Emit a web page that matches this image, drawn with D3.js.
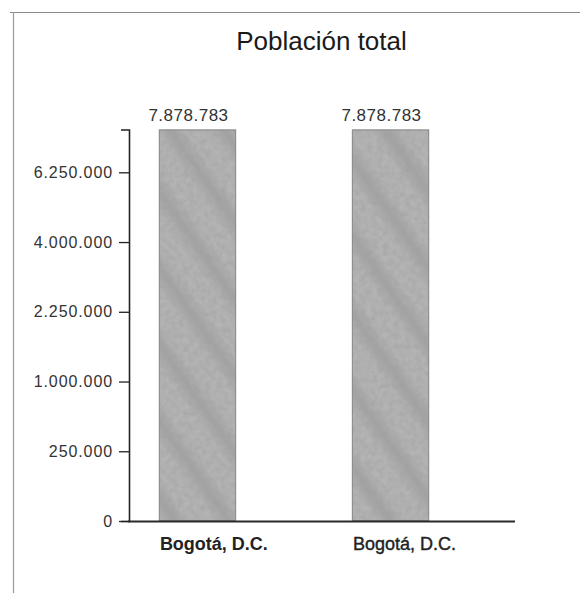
<!DOCTYPE html>
<html>
<head>
<meta charset="utf-8">
<script src="https://cdn.jsdelivr.net/npm/d3@7"></script>
<style>
  html, body { margin: 0; padding: 0; background: #fff; }
  svg { display: block; font-family: Arial, "Liberation Sans", sans-serif; }
</style>
</head>
<body>
<svg id="chart" width="580" height="593"></svg>
<script>
// ---- data ----
const title = "Población total";
const categories = ["Bogotá, D.C. (1)", "Bogotá, D.C. (2)"];
const categoryLabels = ["Bogotá, D.C.", "Bogotá, D.C."];
const values = [7878783, 7878783];
const yTicks = [0, 250000, 1000000, 2250000, 4000000, 6250000];

const locale = d3.formatLocale({decimal: ",", thousands: ".", grouping: [3], currency: ["", ""]});
const fmt = locale.format(",d");

const svg = d3.select("#chart");

// frame
svg.append("line").attr("x1", 10).attr("x2", 580).attr("y1", 12.5).attr("y2", 12.5)
  .attr("stroke", "#8a8a8a").attr("stroke-width", 1.2);
svg.append("line").attr("x1", 13.5).attr("x2", 13.5).attr("y1", 12).attr("y2", 593)
  .attr("stroke", "#9a9a9a").attr("stroke-width", 1.2);

// texture for bars
const defs = svg.append("defs");
const grad = defs.append("linearGradient").attr("id", "band").attr("x1", 0).attr("x2", 1).attr("y1", 0).attr("y2", 0);
grad.append("stop").attr("offset", "0%").attr("stop-color", "#b6b6b6");
grad.append("stop").attr("offset", "50%").attr("stop-color", "#939393");
grad.append("stop").attr("offset", "100%").attr("stop-color", "#b6b6b6");
const pat = defs.append("pattern").attr("id", "tex").attr("patternUnits", "userSpaceOnUse")
  .attr("width", 44).attr("height", 44).attr("patternTransform", "rotate(-35)");
pat.append("rect").attr("width", 44).attr("height", 44).attr("fill", "#b6b6b6");
pat.append("rect").attr("x", 8).attr("width", 26).attr("height", 44).attr("fill", "url(#band)").attr("opacity", 0.55);

const filt = defs.append("filter").attr("id", "grain").attr("x", 0).attr("y", 0).attr("width", 1).attr("height", 1);
filt.append("feTurbulence").attr("type", "fractalNoise").attr("baseFrequency", 0.18)
  .attr("numOctaves", 2).attr("seed", 3).attr("result", "noise");
filt.append("feColorMatrix").attr("in", "noise").attr("type", "matrix")
  .attr("values", "0 0 0 0 0.35  0 0 0 0 0.35  0 0 0 0 0.35  0 0 0 -0.9 0.75").attr("result", "gray");
filt.append("feComposite").attr("in", "gray").attr("in2", "SourceGraphic").attr("operator", "in").attr("result", "g2");
const merge = filt.append("feMerge");
merge.append("feMergeNode").attr("in", "SourceGraphic");
merge.append("feMergeNode").attr("in", "g2");

// scales
const y = d3.scaleSqrt().domain([0, 7878783]).range([521, 129.5]);
const x = d3.scaleBand().domain(categories).range([128, 460]).paddingInner(0.6).paddingOuter(0.16);

// title
svg.append("text").attr("x", 321.5).attr("y", 50).attr("text-anchor", "middle")
  .attr("font-size", 26).attr("fill", "#1a1a1a").text(title);

// bars
svg.selectAll("rect.bar").data(values).join("rect").attr("class", "bar")
  .attr("x", (d, i) => x(categories[i]))
  .attr("y", d => y(d))
  .attr("width", x.bandwidth())
  .attr("height", d => y(0) - y(d))
  .attr("fill", "url(#tex)")
  .attr("filter", "url(#grain)");
svg.selectAll("rect.edge").data(values).join("rect").attr("class", "edge")
  .attr("x", (d, i) => x(categories[i]) + 0.5)
  .attr("y", d => y(d) + 0.5)
  .attr("width", x.bandwidth() - 1)
  .attr("height", d => y(0) - y(d) - 1)
  .attr("fill", "none")
  .attr("stroke", "#8c8c8c").attr("stroke-width", 1);

// value labels
svg.selectAll("text.val").data(values).join("text").attr("class", "val")
  .attr("x", (d, i) => x(categories[i]) + x.bandwidth() / 2 - 9)
  .attr("y", d => y(d) - 9)
  .attr("text-anchor", "middle")
  .attr("font-size", 17).attr("letter-spacing", 0.5).attr("fill", "#333")
  .text(d => fmt(d));

// y axis
const yAxis = d3.axisLeft(y).tickValues(yTicks).tickSize(10).tickSizeOuter(8).tickPadding(6).tickFormat(fmt);
const gy = svg.append("g").attr("transform", "translate(129,0)").call(yAxis);
gy.select(".domain").attr("stroke", "#222").attr("stroke-width", 1.6);
gy.selectAll(".tick line").attr("stroke", "#222").attr("stroke-width", 1.3);
gy.selectAll(".tick text").attr("font-size", 16).attr("letter-spacing", 0.9)
  .attr("fill", "#333").attr("font-family", "Arial, 'Liberation Sans', sans-serif");

// x baseline
svg.append("line").attr("x1", 128).attr("x2", 515).attr("y1", 521.5).attr("y2", 521.5)
  .attr("stroke", "#2a2a2a").attr("stroke-width", 2.2);

// category labels
svg.selectAll("text.cat").data(categories).join("text").attr("class", "cat")
  .attr("x", d => x(d) + 1)
  .attr("y", 550)
  .attr("font-size", 18)
  .attr("font-weight", (d, i) => i === 0 ? "bold" : "normal")
  .attr("stroke", (d, i) => i === 0 ? "none" : "#222")
  .attr("stroke-width", 0.4)
  .attr("fill", "#222")
  .text((d, i) => categoryLabels[i]);
</script>
</body>
</html>
